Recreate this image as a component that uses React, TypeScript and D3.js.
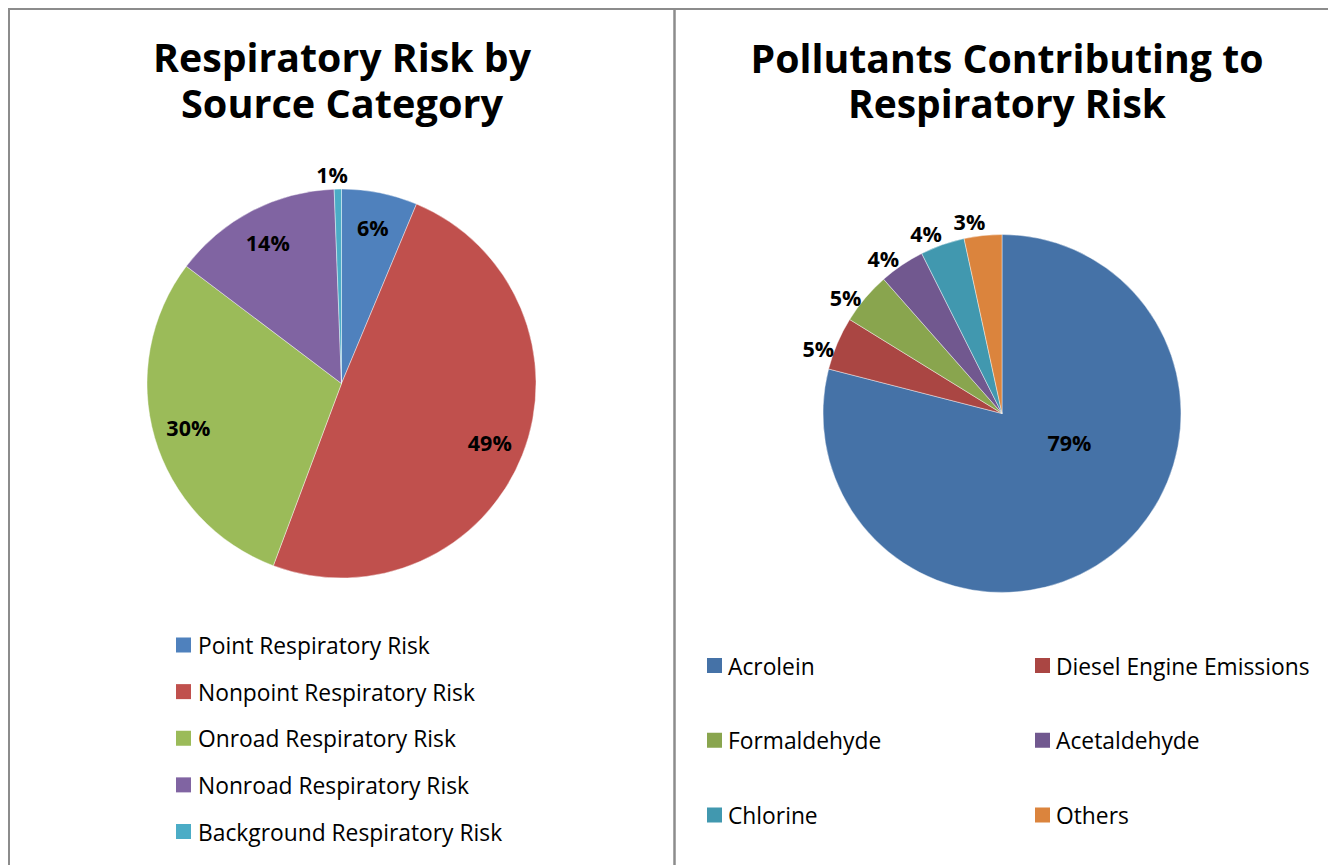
import React from "react";
import * as d3 from "d3";

// ---------- data ----------
const leftTitle = ["Respiratory Risk by", "Source Category"];
const leftCategories = [
  "Point Respiratory Risk",
  "Nonpoint Respiratory Risk",
  "Onroad Respiratory Risk",
  "Nonroad Respiratory Risk",
  "Background Respiratory Risk",
];
const leftValues = [6.3, 49.4, 29.6, 14.1, 0.6];
const leftColors = ["#4F81BD", "#C0504D", "#9BBB59", "#8064A2", "#4BACC6"];
const leftLabelOutside = [false, false, false, false, true];

const rightTitle = ["Pollutants Contributing to", "Respiratory Risk"];
const rightCategories = [
  "Acrolein",
  "Diesel Engine Emissions",
  "Formaldehyde",
  "Acetaldehyde",
  "Chlorine",
  "Others",
];
const rightValues = [79.0, 4.8, 4.7, 4.1, 4.0, 3.4];
const rightColors = ["#4572A7", "#AA4643", "#89A54E", "#71588F", "#4198AF", "#DB843D"];
const rightLabelOutside = [false, true, true, true, true, true];

const FONT = "'Open Sans', 'Noto Sans', sans-serif";

type PieProps = {
  cx: number;
  cy: number;
  r: number;
  values: number[];
  colors: string[];
  outside: boolean[];
  insideFactor: number;
  insideAngleShift: number;
  outsideGap: number;
  outsideAngleShift: number;
};

function Pie({ cx, cy, r, values, colors, outside, insideFactor, insideAngleShift, outsideGap, outsideAngleShift }: PieProps) {
  const total = d3.sum(values);
  const arcs = d3.pie<number>().sort(null).value((d) => d).startAngle(0).endAngle(2 * Math.PI)(values);
  const arcGen = d3.arc<d3.PieArcDatum<number>>().innerRadius(0).outerRadius(r);
  return (
    <g transform={`translate(${cx},${cy})`}>
      {arcs.map((a, i) => (
        <path key={i} d={arcGen(a) || ""} fill={colors[i]} stroke="#ffffff" strokeWidth={0.6} strokeOpacity={0.7} />
      ))}
      {arcs.map((a, i) => {
        const mid = (a.startAngle + a.endAngle) / 2;
        let ang = mid + (insideAngleShift * Math.PI) / 180;
        let rr = r * insideFactor;
        if (outside[i]) {
          ang = mid + (outsideAngleShift * Math.PI) / 180;
          rr = r + outsideGap;
        }
        const x = rr * Math.sin(ang);
        const y = -rr * Math.cos(ang);
        const pct = Math.round((a.data / total) * 100);
        return (
          <text
            key={"l" + i}
            x={x}
            y={y}
            textAnchor="middle"
            dominantBaseline="central"
            fontFamily={FONT}
            fontWeight={700}
            fontSize={21.5}
            fill="#000"
          >
            {pct}%
          </text>
        );
      })}
    </g>
  );
}

function Title({ lines, x, y, lineGap, widths }: { lines: string[]; x: number; y: number; lineGap: number; widths: number[] }) {
  return (
    <text textAnchor="middle" fontFamily={FONT} fontWeight={700} fontSize={40} fill="#000">
      {lines.map((t, i) => (
        <tspan key={t} x={x} y={y + i * lineGap} textLength={widths[i]} lengthAdjust="spacingAndGlyphs">
          {t}
        </tspan>
      ))}
    </text>
  );
}

export default function App() {
  // left legend rows
  const leftRowY = d3.scalePoint<string>().domain(leftCategories).range([645, 831.5]);
  // right legend grid
  const rightRowY = d3.scalePoint<number>().domain([0, 1, 2]).range([665.5, 815]);
  const rightColX = d3.scalePoint<number>().domain([0, 1]).range([707, 1035]);
  const sq = 15;

  return (
    <svg
      width={1328}
      height={865}
      style={{ position: "absolute", left: 0, top: 0, display: "block", background: "#fff" }}
    >
      <rect x={0} y={0} width={1328} height={865} fill="#fff" />
      {/* borders */}
      <line x1={8} x2={1328} y1={9} y2={9} stroke="#8c8c8c" strokeWidth={2} />
      <line x1={9} x2={9} y1={8} y2={865} stroke="#8c8c8c" strokeWidth={2} />
      <line x1={674.5} x2={674.5} y1={8} y2={865} stroke="#8c8c8c" strokeWidth={2.5} />

      {/* left chart */}
      <Title lines={leftTitle} x={342} y={72} lineGap={45.5} widths={[378, 322]} />
      <Pie
        cx={341.5}
        cy={383.5}
        r={194.5}
        values={leftValues}
        colors={leftColors}
        outside={leftLabelOutside}
        insideFactor={0.82}
        insideAngleShift={0}
        outsideGap={15}
        outsideAngleShift={-1.5}
      />
      {leftCategories.map((c, i) => {
        const y = leftRowY(c) as number;
        return (
          <g key={c}>
            <rect x={176} y={y - sq / 2} width={sq} height={sq} fill={leftColors[i]} />
            <text x={198} y={y + 0.5} dominantBaseline="central" fontFamily={FONT} fontSize={22.8} fill="#000">
              {c}
            </text>
          </g>
        );
      })}

      {/* right chart */}
      <Title lines={rightTitle} x={1007} y={73} lineGap={45} widths={[513, 318]} />
      <Pie
        cx={1002}
        cy={413.5}
        r={179}
        values={rightValues}
        colors={rightColors}
        outside={rightLabelOutside}
        insideFactor={0.41}
        insideAngleShift={-29}
        outsideGap={16}
        outsideAngleShift={-3.5}
      />
      {rightCategories.map((c, i) => {
        const x = rightColX(i % 2) as number;
        const y = rightRowY(Math.floor(i / 2)) as number;
        return (
          <g key={c}>
            <rect x={x} y={y - sq / 2} width={sq} height={sq} fill={rightColors[i]} />
            <text x={x + 21} y={y + 0.5} dominantBaseline="central" fontFamily={FONT} fontSize={22.8} fill="#000">
              {c}
            </text>
          </g>
        );
      })}
    </svg>
  );
}
